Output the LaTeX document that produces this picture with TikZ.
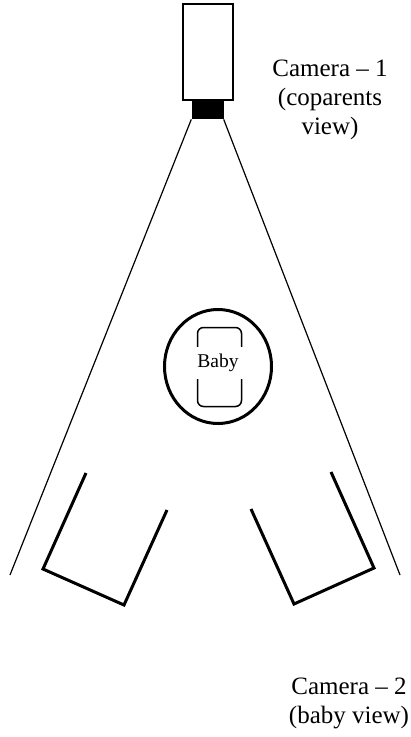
\documentclass[tikz,border=0pt]{standalone}
\usepackage{fontspec}
\setmainfont{Liberation Serif}
\usetikzlibrary{shapes.geometric}

\begin{document}
\begin{tikzpicture}[x=1pt, y=-1pt,
    viewline/.style={line width=1.2pt},
    cupline/.style={line width=3pt, line join=miter},
    camtext/.style={align=center, inner sep=0pt, font=\fontsize{25}{29}\selectfont}]

    \useasboundingbox (0,0) rectangle (411,737);

    % 1. Camera 1 va ong kinh
    \node[draw, line width=2pt, minimum width=50pt, minimum height=96pt, inner sep=0pt] (cam1) at (207.5,52) {};
    \node[fill, minimum width=32pt, minimum height=18pt, inner sep=0pt, anchor=north] (lens) at (cam1.south) {};

    % 2. Vung nhin cua camera
    \coordinate (viewL) at (10,575);
    \coordinate (viewR) at (400,575);
    \draw[viewline] (lens.south west) -- (viewL);
    \draw[viewline] (lens.south east) -- (viewR);

    % 3. Em be o giua
    \node[draw, ellipse, line width=3pt, minimum width=107pt, minimum height=114pt, inner sep=0pt] (crib) at (218,366.5) {};
    \node[draw, line width=1.5pt, rounded corners=6pt, minimum width=44pt, minimum height=79pt, inner sep=0pt] (bed) at (219.5,367) {};
    \node[fill=white, inner sep=0pt, minimum width=50pt, minimum height=32pt, font=\fontsize{19.5}{22}\selectfont] (baby) at (218,363) {Baby};

    % 4. Hai cha me
    \draw[cupline] (86,473) -- (43,569) -- (124,605) -- (167,510);
    \draw[cupline] (331,472) -- (374,568) -- (294,604) -- (251,509);

    % 5. Chu thich
    \node[camtext, anchor=north] (lab1) at (330,60) {Camera -- 1\\(coparents\\view)};
    \node[camtext, anchor=north] (lab2) at (349,678) {Camera -- 2\\(baby view)};

\end{tikzpicture}
\end{document}
